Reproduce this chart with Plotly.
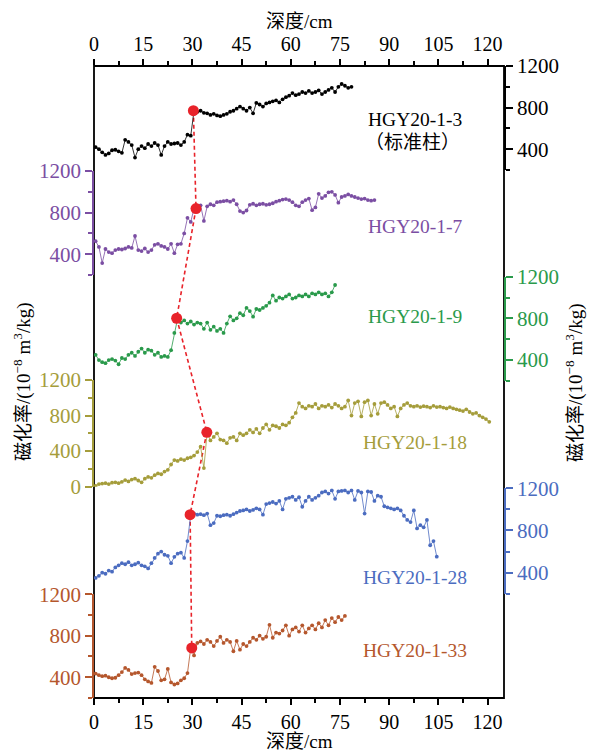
import plotly.graph_objects as go

# ---- magnetic susceptibility profiles (10^-8 m^3/kg), sampled every 1 cm ----
depth_start = 0.5
depth_step = 1.0

core_names = ["HGY20-1-3", "HGY20-1-7", "HGY20-1-9", "HGY20-1-18", "HGY20-1-28", "HGY20-1-33"]
core_colors = ["#000000", "#7b4ea3", "#2a9a4b", "#a59d3b", "#4b6cc0", "#b5572d"]

chi_hgy3 = [420, 400, 370, 345, 360, 390, 395, 380, 365, 490, 470, 440, 320, 400, 430, 410,
            450, 430, 460, 440, 345, 430, 470, 450, 455, 460, 440, 470, 540, 530, 770, 760,
            770, 750, 745, 730, 740, 725, 718, 730, 740, 760, 770, 790, 810, 790, 770, 800,
            745, 845, 830, 810, 840, 850, 860, 870, 850, 880, 900, 915, 940, 920, 930, 950,
            940, 960, 940, 950, 965, 930, 950, 970, 990, 950, 1000, 1027, 1010, 990, 1000]

chi_hgy7 = [525, 470, 315, 450, 420, 410, 440, 450, 445, 455, 470, 460, 575, 440, 430, 455,
            420, 440, 490, 500, 480, 470, 450, 500, 410, 495, 500, 600, 750, 710, 840, 820,
            870, 720, 860, 880, 870, 900, 905, 910, 915, 905, 920, 880, 815, 800, 820, 875,
            885, 870, 880, 885, 875, 880, 890, 905, 915, 925, 930, 920, 900, 870, 860, 900,
            920, 935, 823, 850, 980, 940, 960, 995, 1000, 970, 895, 950, 960, 975, 960, 950,
            940, 930, 935, 920, 915, 920]

chi_hgy9 = [450, 400, 380, 370, 400, 410, 395, 360, 420, 410, 450, 470, 440, 480, 510, 470,
            500, 490, 450, 470, 430, 440, 430, 495, 660, 800, 760, 780, 750, 770, 740, 760,
            750, 700, 760, 690, 720, 680, 700, 660, 750, 820, 780, 800, 850, 830, 900, 870,
            816, 890, 880, 900, 920, 950, 1020, 970, 1000, 990, 1010, 1030, 990, 1000, 1020, 1010,
            1030, 1010, 1040, 1030, 1050, 1030, 1040, 1010, 1050, 1120]

chi_hgy18 = [10, 30, 35, 40, 30, 45, 50, 40, 55, 75, 60, 80, 90, 70, 50, 90,
             110, 100, 130, 150, 140, 170, 190, 250, 300, 290, 310, 300, 320, 330, 350, 390,
             450, 210, 612, 520, 560, 600, 530, 520, 490, 550, 560, 520, 600, 580, 600, 640,
             610, 650, 600, 660, 700, 640, 690, 680, 660, 700, 690, 720, 780, 830, 940, 900,
             880, 910, 900, 930, 880, 910, 900, 920, 890, 930, 910, 880, 900, 970, 800, 940,
             960, 790, 950, 970, 800, 930, 820, 940, 950, 920, 880, 900, 790, 880, 920, 940,
             910, 900, 910, 895, 905, 900, 890, 910, 895, 900, 890, 880, 895, 880, 870, 860,
             850, 870, 840, 820, 830, 800, 780, 760, 730]

chi_hgy28 = [350, 370, 400, 390, 420, 410, 450, 470, 490, 480, 500, 470, 480, 495, 470, 460,
             440, 490, 540, 580, 600, 570, 560, 490, 550, 580, 590, 540, 700, 950, 960, 950,
             955, 945, 960, 850, 870, 940, 935, 945, 950, 940, 955, 970, 985, 990, 1000, 985,
             995, 1010, 1000, 950, 1050, 1060, 1070, 1055, 1080, 1000, 1100, 1110, 1120, 1090, 1115, 1025,
             1080, 1120, 1090, 1110, 1130, 1160, 1170, 1150, 1180, 1100, 1170, 1175, 1180, 1160, 1180, 1090,
             1175, 1160, 960, 1170, 1165, 1080, 1130, 1120, 1030, 1020, 1010, 1000, 1010, 990, 940, 900,
             880, 990, 820, 850, 830, 900, 660, 700, 552]

chi_hgy33 = [435, 420, 410, 415, 400, 390, 395, 420, 450, 490, 470, 430, 440, 445, 420, 380,
             360, 345, 500, 460, 370, 380, 480, 350, 330, 340, 370, 390, 440, 682, 610, 730,
             745, 720, 760, 740, 700, 750, 790, 730, 760, 740, 650, 750, 665, 720, 700, 740,
             780, 760, 800, 770, 790, 905, 780, 830, 820, 850, 900, 800, 860, 880, 840, 900,
             830, 870, 900, 860, 920, 880, 950, 900, 970, 930, 980, 950, 990]

chi_series = [chi_hgy3, chi_hgy7, chi_hgy9, chi_hgy18, chi_hgy28, chi_hgy33]

# correlation tie points (depth cm, susceptibility) for each core
tie_depth = [30.3, 31.1, 25.2, 34.4, 29.3, 29.8]
tie_value = [770, 839, 801, 612, 950, 682]

# per-core y-axis settings
axis_sides = ["right", "left", "right", "left", "right", "left"]
axis_ranges = [[200, 1200], [200, 1200], [200, 1200], [0, 1200], [200, 1200], [200, 1200]]
axis_domains = [[0.8354, 1.0], [0.6693, 0.8339], [0.5017, 0.6667],
                [0.3343, 0.5032], [0.1649, 0.3318], [0.0, 0.1643]]
label_y = [0.9146, 0.7457, 0.6033, 0.4035, 0.1899, 0.0748]

x_ticks = [0, 15, 30, 45, 60, 75, 90, 105, 120]

serif = "Liberation Serif, 'Noto Sans CJK SC', serif"
red = "#e8232a"

fig = go.Figure()

for i, vals in enumerate(chi_series):
    depths = [depth_start + k * depth_step for k in range(len(vals))]
    yref = "y" if i == 0 else f"y{i + 1}"
    fig.add_trace(go.Scatter(
        x=depths, y=vals, xaxis="x", yaxis=yref, mode="lines+markers",
        line=dict(color=core_colors[i], width=0.8),
        marker=dict(color=core_colors[i], size=3.8),
        showlegend=False, hoverinfo="skip"))

# red tie-point markers on each core's own axis (top depth axis shares the scale)
for i in range(6):
    yref = "y" if i == 0 else f"y{i + 1}"
    fig.add_trace(go.Scatter(
        x=[tie_depth[i]], y=[tie_value[i]], xaxis="x2", yaxis=yref, mode="markers",
        marker=dict(color=red, size=11), showlegend=False, hoverinfo="skip"))

# dashed correlation line: tie values converted to fractions of the full plot height
tie_frac = []
for i in range(6):
    lo, hi = axis_ranges[i]
    d0, d1 = axis_domains[i]
    tie_frac.append(d0 + (tie_value[i] - lo) / (hi - lo) * (d1 - d0))

shapes = [dict(type="rect", xref="paper", yref="paper", x0=0, x1=1, y0=0, y1=1,
               line=dict(color="black", width=1.8), layer="below")]
for i in range(5):
    shapes.append(dict(type="line", xref="x", yref="paper",
                       x0=tie_depth[i], y0=tie_frac[i], x1=tie_depth[i + 1], y1=tie_frac[i + 1],
                       line=dict(color=red, width=1.6, dash="4px,3px"), layer="below"))

axis_common = dict(showline=True, linecolor="black", linewidth=1.8,
                   ticks="outside", ticklen=6, tickwidth=1.5, tickcolor="black",
                   tickmode="array", tickvals=x_ticks, ticktext=[str(t) for t in x_ticks],
                   tickfont=dict(size=20, family=serif, color="black"),
                   minor=dict(dtick=7.5, tick0=0, ticks="outside", ticklen=4, tickwidth=1.5,
                              tickcolor="black"),
                   showgrid=False, zeroline=False, range=[0, 125])

layout = dict(
    width=589, height=754,
    margin=dict(l=94, r=85, t=66, b=56),
    paper_bgcolor="white", plot_bgcolor="rgba(0,0,0,0)",
    font=dict(family=serif, color="black"),
    xaxis=dict(anchor="free", position=0, side="bottom", **axis_common),
    xaxis2=dict(anchor="free", position=1, side="top", overlaying="x", matches="x", **axis_common),
    shapes=shapes,
)

for i in range(6):
    key = "yaxis" if i == 0 else f"yaxis{i + 1}"
    c = core_colors[i]
    layout[key] = dict(
        domain=axis_domains[i], range=axis_ranges[i], anchor="x", side=axis_sides[i],
        showline=True, linecolor=c, linewidth=1.8,
        ticks="outside", ticklen=7, tickwidth=1.5, tickcolor=c,
        tick0=0, dtick=400, tickfont=dict(size=21, color=c, family=serif),
        minor=dict(dtick=200, tick0=0, ticks="outside", ticklen=4, tickwidth=1.5, tickcolor=c),
        showgrid=False, zeroline=False)

fig.update_layout(**layout)


def label(text, x, y, size, color="black", angle=0):
    fig.add_annotation(text=text, xref="paper", yref="paper", x=x, y=y,
                       xanchor="center", yanchor="middle", textangle=angle,
                       showarrow=False, font=dict(size=size, family=serif, color=color))


# x-axis titles (top and bottom)
label("深度/cm", 0.5, 1.0712, 19)
label("深度/cm", 0.5, -0.0686, 19)

# y-axis titles on both sides
ytitle = "磁化率/(10<sup>−8</sup> m<sup>3</sup>/kg)"
label(ytitle, -0.1756, 0.5, 19, angle=-90)
label(ytitle, 1.1707, 0.5, 19, angle=-90)

# core labels
for i in range(6):
    label(core_names[i], 0.782, label_y[i], 19.5, core_colors[i])
label("（标准柱）", 0.778, 0.8797, 19)

fig.write_html("out.html")
